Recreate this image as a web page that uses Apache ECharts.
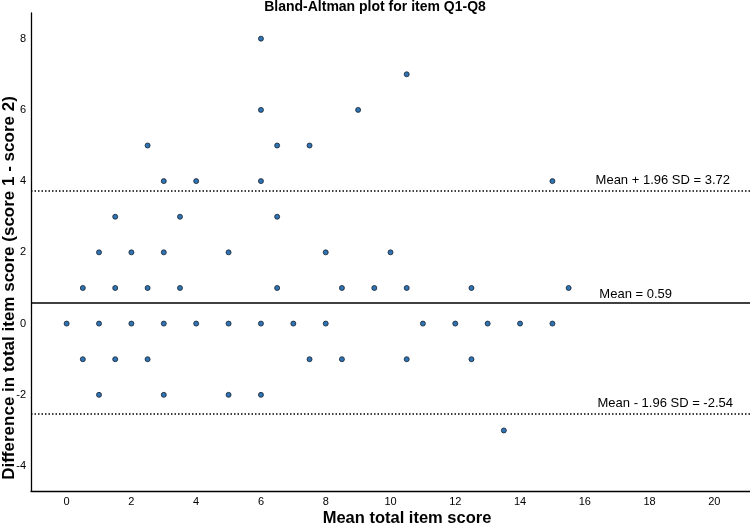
<!DOCTYPE html>
<html>
<head>
<meta charset="utf-8">
<script src="https://cdn.jsdelivr.net/npm/echarts@6/dist/echarts.min.js"></script>
<style>html,body{margin:0;padding:0;background:#fff}#c{width:750px;height:525px}</style>
</head>
<body>
<div id="c"></div>
<script>
var chartTitle = 'Bland-Altman plot for item Q1-Q8';
var xAxisTitle = 'Mean total item score';
var yAxisTitle = 'Difference in total item score (score 1 - score 2)';
var xTicks = [0, 2, 4, 6, 8, 10, 12, 14, 16, 18, 20];
var yTicks = [-4, -2, 0, 2, 4, 6, 8];
// mean of the two scores (x) and their difference (y), paired
var meanScore = [6, 10.5, 6, 9, 2.5, 6.5, 7.5, 3, 4, 6, 15, 1.5, 3.5, 6.5,
  1, 2, 3, 5, 8, 10,
  0.5, 1.5, 2.5, 3.5, 6.5, 8.5, 9.5, 10.5, 12.5, 15.5,
  0, 1, 2, 3, 4, 5, 6, 7, 8, 11, 12, 13, 14, 15,
  0.5, 1.5, 2.5, 7.5, 8.5, 10.5, 12.5,
  1, 3, 5, 6, 13.5];
var diffScore = [8, 7, 6, 6, 5, 5, 5, 4, 4, 4, 4, 3, 3, 3,
  2, 2, 2, 2, 2, 2,
  1, 1, 1, 1, 1, 1, 1, 1, 1, 1,
  0, 0, 0, 0, 0, 0, 0, 0, 0, 0, 0, 0, 0, 0,
  -1, -1, -1, -1, -1, -1, -1,
  -2, -2, -2, -2, -3];
var meanDiff = 0.59;
var upperLoA = 3.72;
var lowerLoA = -2.54;
var lineLabels = ['Mean + 1.96 SD = 3.72', 'Mean = 0.59', 'Mean - 1.96 SD = -2.54'];

var points = meanScore.map(function (x, i) { return [x, diffScore[i]]; });
var FONT = '"Liberation Sans", Arial, sans-serif';

var chart = echarts.init(document.getElementById('c'));
chart.setOption({
  animation: false,
  backgroundColor: '#fff',
  title: {
    text: chartTitle, left: 'center', top: 0, padding: 0,
    textStyle: { fontFamily: FONT, fontSize: 14, fontWeight: 'bold', color: '#000' }
  },
  grid: { left: 31, right: 0, top: 13, bottom: 34, containLabel: false },
  xAxis: {
    type: 'value', min: -1.1, max: 21.1,
    axisLine: { show: true, onZero: false, lineStyle: { color: '#000', width: 1.3 } },
    axisTick: { show: false },
    splitLine: { show: false },
    axisLabel: { customValues: xTicks, margin: 5, fontFamily: FONT, fontSize: 11, color: '#000' }
  },
  yAxis: {
    type: 'value', min: -4.7, max: 8.72,
    axisLine: { show: true, onZero: false, lineStyle: { color: '#000', width: 1.3 } },
    axisTick: { show: false },
    splitLine: { show: false },
    axisLabel: { customValues: yTicks, margin: 5, fontFamily: FONT, fontSize: 11, color: '#000' }
  },
  graphic: [
    { type: 'text', x: 407, y: 518, style: { text: xAxisTitle, font: 'bold 16.5px ' + FONT, fill: '#000', textAlign: 'center', textVerticalAlign: 'middle' } },
    { type: 'text', x: 9, y: 288, rotation: Math.PI / 2, style: { text: yAxisTitle, font: 'bold 17px ' + FONT, fill: '#000', textAlign: 'center', textVerticalAlign: 'middle' } }
  ],
  series: [{
    type: 'scatter',
    data: points,
    symbol: 'circle',
    symbolSize: 5,
    itemStyle: { color: '#2f73b3', borderColor: '#16222e', borderWidth: 0.8, opacity: 1 },
    markLine: {
      silent: true,
      symbol: ['none', 'none'],
      animation: false,
      data: [
        { yAxis: upperLoA, lineStyle: { color: '#000', width: 1.5, type: [1.5, 2] },
          label: { show: true, formatter: lineLabels[0], position: 'insideEndTop', distance: 4, padding: [0, 16, 0, 0] } },
        { yAxis: meanDiff, lineStyle: { color: '#000', width: 1.5, type: 'solid' },
          label: { show: true, formatter: lineLabels[1], position: 'insideEndTop', distance: 2, padding: [0, 76, 0, 0] } },
        { yAxis: lowerLoA, lineStyle: { color: '#000', width: 1.5, type: [1.5, 2] },
          label: { show: true, formatter: lineLabels[2], position: 'insideEndTop', distance: 4, padding: [0, 13, 0, 0] } }
      ],
      label: { fontFamily: FONT, fontSize: 13, color: '#000' }
    }
  }]
});
</script>
</body>
</html>
